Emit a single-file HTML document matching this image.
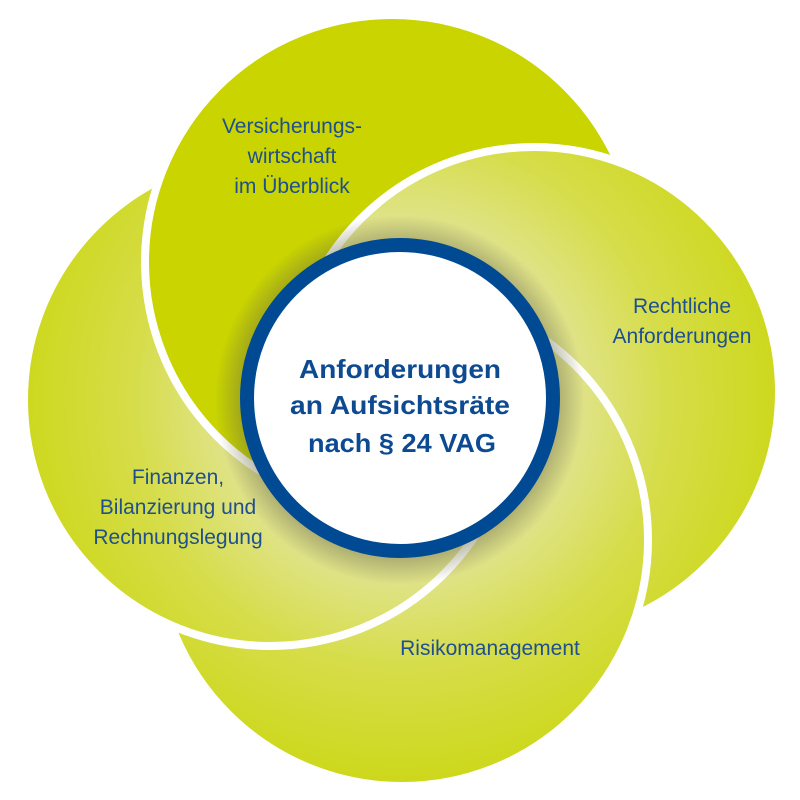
<!DOCTYPE html>
<html><head><meta charset="utf-8"><style>html,body{margin:0;padding:0;background:#fff}svg{display:block}</style></head>
<body>
<svg width="800" height="800" viewBox="0 0 800 800" xmlns="http://www.w3.org/2000/svg">
<defs>
<radialGradient id="g" gradientUnits="userSpaceOnUse" cx="400" cy="400" r="380">
<stop offset="0.4" stop-color="#e3e59c"/>
<stop offset="0.7" stop-color="#d6dd4a"/>
<stop offset="1" stop-color="#cdd81c"/>
</radialGradient>
<radialGradient id="sh" gradientUnits="userSpaceOnUse" cx="400" cy="400" r="185">
<stop offset="0.85" stop-color="#6b6b40" stop-opacity="0.45"/>
<stop offset="1" stop-color="#6b6b40" stop-opacity="0"/>
</radialGradient>
<clipPath id="lc"><path clip-rule="evenodd" d="M0 0H800V800H0Z M392 11 A251 251 0 1 0 392.01 11 Z"/></clipPath>
<clipPath id="tc"><rect x="0" y="0" width="325" height="800"/></clipPath>
</defs>
<g stroke="#fff" stroke-width="8">
<circle cx="270" cy="400" r="246" fill="url(#g)"/>
<circle cx="392" cy="262" r="247" fill="#c9d400"/>
<circle cx="534" cy="392" r="245" fill="url(#g)"/>
<circle cx="402" cy="540" r="246" fill="url(#g)"/>
<circle cx="392" cy="262" r="247" fill="#c9d400" clip-path="url(#tc)"/>
<circle cx="270" cy="400" r="246" fill="url(#g)" clip-path="url(#lc)"/>
</g>
<circle cx="400" cy="400" r="185" fill="url(#sh)"/>
<circle cx="400" cy="398" r="153" fill="#fff" stroke="#004a93" stroke-width="14"/>
<g font-family="Liberation Sans, sans-serif" fill="#0d4a92" font-weight="bold" font-size="26" text-anchor="middle">
<text x="400" y="378" textLength="202" lengthAdjust="spacingAndGlyphs">Anforderungen</text>
<text x="400" y="414" textLength="220" lengthAdjust="spacingAndGlyphs">an Aufsichtsräte</text>
<text x="402" y="452" textLength="188" lengthAdjust="spacingAndGlyphs">nach § 24 VAG</text>
</g>
<g font-family="Liberation Sans, sans-serif" fill="#1f4f8f" font-size="21" text-anchor="middle">
<text x="292" y="133">Versicherungs-</text>
<text x="292" y="163">wirtschaft</text>
<text x="292" y="193">im Überblick</text>
<text x="682" y="313">Rechtliche</text>
<text x="682" y="343">Anforderungen</text>
<text x="178" y="484">Finanzen,</text>
<text x="178" y="514">Bilanzierung und</text>
<text x="178" y="544">Rechnungslegung</text>
<text x="490" y="655">Risikomanagement</text>
</g>
</svg>
</body></html>
